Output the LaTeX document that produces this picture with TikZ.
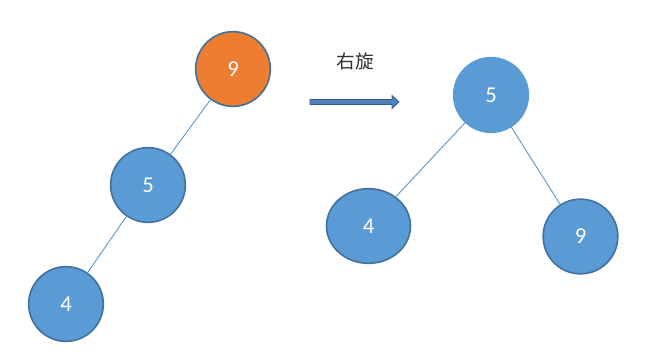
\documentclass[tikz,border=0pt]{standalone}
\usepackage{fontspec}
\setmainfont{Carlito}
\newfontfamily\cjk{Noto Sans CJK SC}
\usetikzlibrary{shapes.geometric}
\definecolor{nodeblue}{HTML}{5B9BD5}
\definecolor{nodeedge}{HTML}{41719C}
\definecolor{nodeorange}{HTML}{ED7D31}
\definecolor{arrowfill}{HTML}{4F81BD}
\definecolor{arrowedge}{HTML}{385D8A}
\tikzset{
  treenode/.style={ellipse, fill=nodeblue, draw=nodeedge, line width=1.2pt,
    minimum width=56pt, minimum height=56pt, inner sep=0pt,
    text=white, font=\fontsize{17}{17}\selectfont},
  hotnode/.style={treenode, fill=nodeorange},
  edge/.style={draw=nodeblue, line width=0.7pt}
}
\begin{document}
\begin{tikzpicture}[x=0.75pt,y=-0.75pt]
\useasboundingbox (0,0) rectangle (650,360);
\fill[white] (0,0) rectangle (650,360);
% left tree
\node[hotnode] (l9) at (233,69) {9};
\node[treenode] (l5) at (148,185) {5};
\node[treenode] (l4) at (66,304) {4};
\draw[edge] (l9) -- (l5);
\draw[edge] (l5) -- (l4);
% right tree
\node[treenode, draw=nodeblue] (r5) at (491,95) {5};
\node[treenode, minimum width=63pt] (r4) at (368.5,226) {4};
\node[treenode] (r9) at (580.5,236.5) {9};
\draw[edge] (r5) -- (r4);
\draw[edge] (r5) -- (r9);
% arrow
\node[font=\cjk\fontsize{14}{14}\selectfont, text=black!80] (lbl) at (355,61) {右旋};
\filldraw[fill=arrowfill, draw=arrowedge, line width=0.6pt]
  (310,99.5) -- (392,99.5) -- (392,95.5) -- (399,102) -- (392,108.5) -- (392,104.5) -- (310,104.5) -- cycle;
\end{tikzpicture}
\end{document}
